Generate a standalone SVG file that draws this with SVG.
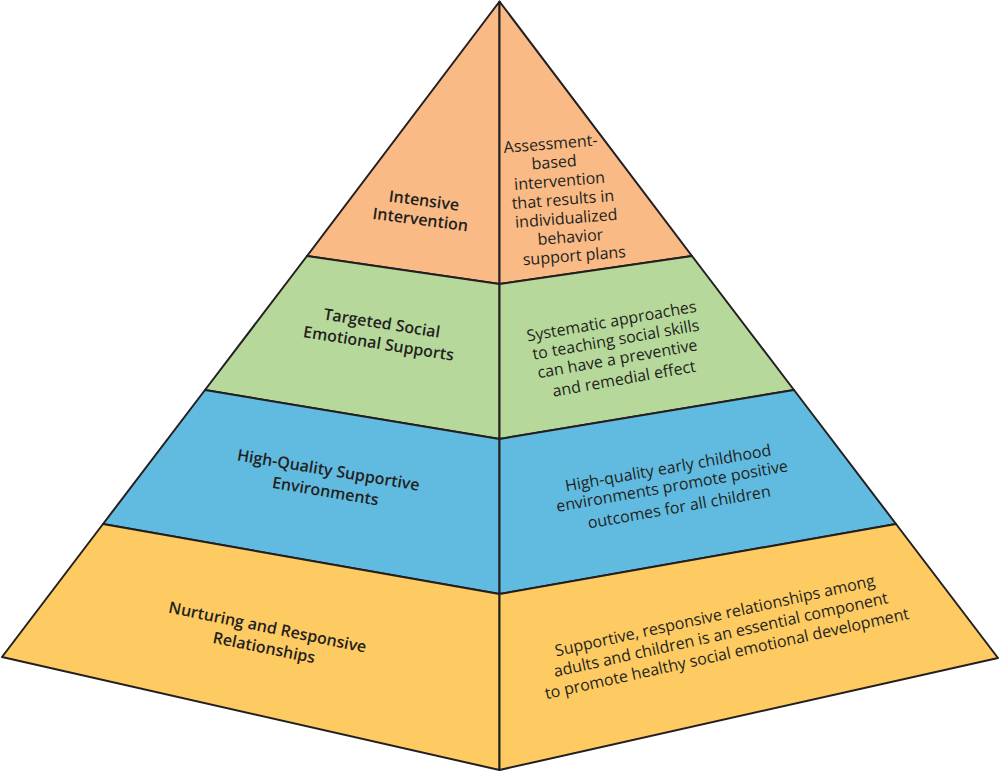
<svg xmlns="http://www.w3.org/2000/svg" width="1000" height="772" viewBox="0 0 1000 772">
<style>
.face{stroke:#231f20;stroke-width:2;stroke-linejoin:round}
.t1{fill:#f9ba86}.t2{fill:#b6d99b}.t3{fill:#61bbe0}.t4{fill:#fecb62}
.lbl{font-family:"Open Sans","Noto Sans","Liberation Sans",sans-serif;font-size:16px;font-weight:600;fill:#231f20;text-anchor:middle}
.desc{font-family:"Open Sans","Noto Sans","Liberation Sans",sans-serif;font-size:16px;font-weight:400;fill:#231f20;text-anchor:middle}
</style>
<rect width="1000" height="772" fill="#ffffff"/>
<g id="tier-intensive">
<polygon class="face t1" points="499.5,1.5 307,256 499.5,284"/>
<polygon class="face t1" points="499.5,1.5 499.5,284 692,256"/>
<text class="lbl" transform="translate(423.3,206) rotate(7.5)">Intensive</text>
<text class="lbl" transform="translate(419.7,225) rotate(7.5)">Intervention</text>
<text class="desc" transform="translate(551,149.2) rotate(-4.5)">Assessment-</text>
<text class="desc" transform="translate(554.5,167.8) rotate(-4.5)">based</text>
<text class="desc" transform="translate(560,186.4) rotate(-4.5)">intervention</text>
<text class="desc" transform="translate(563.3,205.1) rotate(-4.5)">that results in</text>
<text class="desc" transform="translate(566.7,223.8) rotate(-4.5)">individualized</text>
<text class="desc" transform="translate(570.8,242.5) rotate(-4.5)">behavior</text>
<text class="desc" transform="translate(574.7,261.2) rotate(-4.5)">support plans</text>
</g>
<g id="tier-targeted">
<polygon class="face t2" points="307,256 205,390 499.5,439 499.5,284"/>
<polygon class="face t2" points="499.5,284 499.5,439 794,390 692,256"/>
<text class="lbl" transform="translate(381,328.6) rotate(9)">Targeted Social</text>
<text class="lbl" transform="translate(377.8,348.9) rotate(9)">Emotional Supports</text>
<text class="desc" transform="translate(612.5,326.6) rotate(-10)">Systematic approaches</text>
<text class="desc" transform="translate(616.7,345) rotate(-10)">to teaching social skills</text>
<text class="desc" transform="translate(618.3,364.2) rotate(-10)">can have a preventive</text>
<text class="desc" transform="translate(625,384.1) rotate(-10)">and remedial effect</text>
</g>
<g id="tier-environments">
<polygon class="face t3" points="205,390 103,524 499.5,594 499.5,439"/>
<polygon class="face t3" points="499.5,439 499.5,594 896,524 794,390"/>
<text class="lbl" transform="translate(327.5,475.5) rotate(9.5)">High-Quality Supportive</text>
<text class="lbl" transform="translate(324.5,496.6) rotate(9.5)">Environments</text>
<text class="desc" transform="translate(669,473.4) rotate(-10)">High-quality early childhood</text>
<text class="desc" transform="translate(673,491.5) rotate(-10)">environments promote positive</text>
<text class="desc" transform="translate(680,512.5) rotate(-10)">outcomes for all children</text>
</g>
<g id="tier-relationships">
<polygon class="face t4" points="103,524 2,657 499.5,770 499.5,594"/>
<polygon class="face t4" points="499.5,594 499.5,770 998,658 896,524"/>
<text class="lbl" transform="translate(266.5,632.6) rotate(11.5)">Nurturing and Responsive</text>
<text class="lbl" transform="translate(263,653) rotate(11.5)">Relationships</text>
<text class="desc" transform="translate(716,621) rotate(-12.5)">Supportive, responsive relationships among</text>
<text class="desc" transform="translate(722,640) rotate(-12.5)">adults and children is an essential component</text>
<text class="desc" transform="translate(728,659) rotate(-12.5)">to promote healthy social emotional development</text>
</g>
<g id="connectors"></g>
</svg>
